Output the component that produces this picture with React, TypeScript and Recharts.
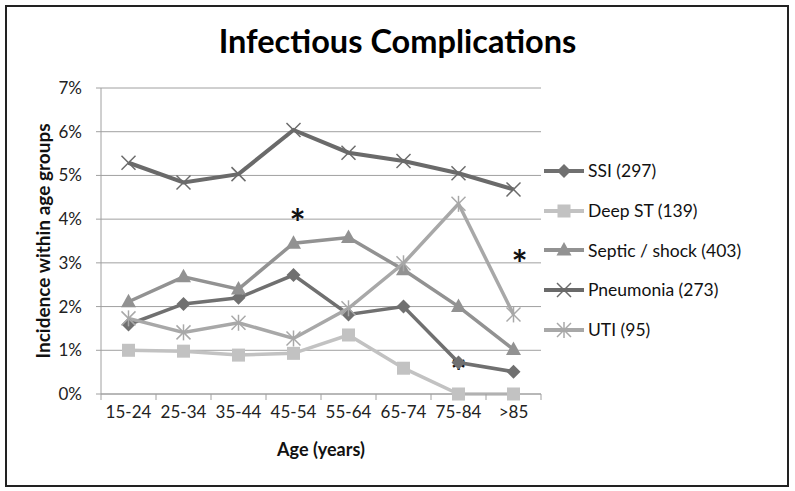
import React from 'react';
import { LineChart, Line, XAxis, YAxis, CartesianGrid, ReferenceDot } from 'recharts';

const categories = ['15-24', '25-34', '35-44', '45-54', '55-64', '65-74', '75-84', '>85'];
const ssi = [1.59, 2.06, 2.2, 2.72, 1.82, 2.0, 0.72, 0.51];
const deepST = [1.0, 0.98, 0.89, 0.93, 1.35, 0.59, 0, 0];
const septic = [2.11, 2.68, 2.4, 3.45, 3.58, 2.84, 2.0, 1.02];
const pneumonia = [5.29, 4.84, 5.03, 6.04, 5.52, 5.33, 5.05, 4.68];
const uti = [1.73, 1.41, 1.63, 1.27, 1.96, 2.99, 4.35, 1.82];
const yTicks = [0, 1, 2, 3, 4, 5, 6, 7];
const asterisks = [
  { x: '45-54', y: 4.12 },
  { x: '75-84', y: 0.7 },
  { x: '>85', y: 3.18 },
];

const seriesDefs = [
  { key: 'ssi', name: 'SSI (297)', color: '#707070', shape: 'diamond', width: 3.5 },
  { key: 'deepST', name: 'Deep ST (139)', color: '#c2c2c2', shape: 'square', width: 3.5 },
  { key: 'septic', name: 'Septic / shock (403)', color: '#929292', shape: 'triangle', width: 3.5 },
  { key: 'pneumonia', name: 'Pneumonia (273)', color: '#6a6a6a', shape: 'x', width: 4 },
  { key: 'uti', name: 'UTI (95)', color: '#a8a8a8', shape: 'star', width: 3.5 },
];

const data = categories.map((c, i) => ({
  cat: c,
  ssi: ssi[i],
  deepST: deepST[i],
  septic: septic[i],
  pneumonia: pneumonia[i],
  uti: uti[i],
}));

const FONT = 'Lato, "Open Sans", sans-serif';

function markerShape(shape: string, cx: number, cy: number, color: string, key?: any) {
  switch (shape) {
    case 'diamond':
      return <polygon key={key} points={`${cx},${cy - 7} ${cx + 7},${cy} ${cx},${cy + 7} ${cx - 7},${cy}`} fill={color} />;
    case 'square':
      return <rect key={key} x={cx - 6.5} y={cy - 6.5} width={13} height={13} fill={color} />;
    case 'triangle':
      return <polygon key={key} points={`${cx},${cy - 8} ${cx + 7.5},${cy + 5.5} ${cx - 7.5},${cy + 5.5}`} fill={color} />;
    case 'x':
      return (
        <g key={key} stroke={color} strokeWidth={1.5}>
          <line x1={cx - 7} y1={cy - 7} x2={cx + 7} y2={cy + 7} />
          <line x1={cx - 7} y1={cy + 7} x2={cx + 7} y2={cy - 7} />
        </g>
      );
    case 'star':
      return (
        <g key={key} stroke={color} strokeWidth={1.5}>
          <line x1={cx - 7} y1={cy - 7} x2={cx + 7} y2={cy + 7} />
          <line x1={cx - 7} y1={cy + 7} x2={cx + 7} y2={cy - 7} />
          <line x1={cx} y1={cy - 8} x2={cx} y2={cy + 8} />
        </g>
      );
    default:
      return null;
  }
}

const makeDot = (shape: string, color: string) => (props: any) => {
  const { cx, cy, index } = props;
  if (cx == null || cy == null) return <g key={index} />;
  return markerShape(shape, cx, cy, color, index);
};

const BAND = 55;

const XTick = (props: any) => {
  const { x, y, payload, index } = props;
  const axisY = y - 8;
  return (
    <g>
      <line x1={x - BAND / 2} y1={axisY} x2={x - BAND / 2} y2={axisY + 6} stroke="#a0a0a0" />
      {index === categories.length - 1 && (
        <line x1={x + BAND / 2} y1={axisY} x2={x + BAND / 2} y2={axisY + 6} stroke="#a0a0a0" />
      )}
      <text x={x} y={y + 16} textAnchor="middle" fontSize={17} fill="#222" fontFamily={FONT}>
        {payload.value}
      </text>
    </g>
  );
};

const AsteriskShape = (props: any) => {
  const { cx, cy, dx } = props;
  return (
    <text x={cx + (dx || 0)} y={cy + 23} textAnchor="middle" fontSize={38} fontWeight="bold" fill="#111" fontFamily={FONT}>
      *
    </text>
  );
};

export default function App() {
  return (
    <div style={{ position: 'absolute', left: 0, top: 0, width: 795, height: 491, background: '#fff', fontFamily: FONT }}>
      <div
        style={{
          position: 'absolute',
          left: 5,
          top: 5,
          width: 780,
          height: 478,
          border: '2px solid #222',
          boxSizing: 'content-box',
        }}
      />
      <div
        style={{
          position: 'absolute',
          left: 0,
          width: 795,
          top: 21,
          textAlign: 'center',
          fontSize: 32.5,
          fontWeight: 'bold',
          color: '#000',
          fontFamily: FONT,
        }}
      >
        Infectious Complications
      </div>
      <div style={{ position: 'absolute', left: 0, top: 0 }}>
        <LineChart width={795} height={491} data={data} margin={{ top: 88, right: 254, bottom: 67, left: 41 }}>
          <CartesianGrid horizontal vertical={false} stroke="#a0a0a0" strokeWidth={1} />
          <XAxis
            dataKey="cat"
            stroke="#a0a0a0"
            tickLine={false}
            tick={<XTick />}
            interval={0}
            padding={{ left: BAND / 2, right: BAND / 2 }}
            label={{ value: 'Age (years)', position: 'insideBottom', offset: -32, fontSize: 18, fontWeight: 'bold', fill: '#111', fontFamily: FONT }}
          />
          <YAxis
            width={60}
            domain={[0, 7]}
            ticks={yTicks}
            interval={0}
            stroke="#a0a0a0"
            tickSize={5}
            tickMargin={14}
            tickFormatter={(v: number) => `${v}%`}
            tick={{ fontSize: 17, fill: '#222', fontFamily: FONT }}
            label={{
              value: 'Incidence within age groups',
              angle: -90,
              position: 'insideLeft',
              offset: 0,
              dx: 2,
              style: { textAnchor: 'middle', fontSize: 19, fontWeight: 'bold', fill: '#111', fontFamily: FONT },
            }}
          />
          <ReferenceDot x={asterisks[1].x} y={asterisks[1].y} r={0} shape={(p: any) => <AsteriskShape {...p} dx={0} />} />
          {seriesDefs.map((s) => (
            <Line
              key={s.key}
              type="linear"
              dataKey={s.key}
              name={s.name}
              stroke={s.color}
              strokeWidth={s.width}
              dot={makeDot(s.shape, s.color)}
              activeDot={false}
              isAnimationActive={false}
            />
          ))}
          <ReferenceDot x={asterisks[0].x} y={asterisks[0].y} r={0} shape={(p: any) => <AsteriskShape {...p} dx={4} />} />
          <ReferenceDot x={asterisks[2].x} y={asterisks[2].y} r={0} shape={(p: any) => <AsteriskShape {...p} dx={6} />} />
        </LineChart>
      </div>
      <div style={{ position: 'absolute', left: 544, top: 151 }}>
        {seriesDefs.map((s) => (
          <div key={s.key} style={{ display: 'flex', alignItems: 'center', height: 39.7 }}>
            <svg width={41} height={20} style={{ display: 'block' }}>
              <line x1={0} y1={10} x2={40} y2={10} stroke={s.color} strokeWidth={4} />
              {markerShape(s.shape, 20, 10, s.color)}
            </svg>
            <span style={{ fontSize: 17.5, color: '#111', marginLeft: 3, whiteSpace: 'nowrap', fontFamily: FONT }}>{s.name}</span>
          </div>
        ))}
      </div>
    </div>
  );
}
